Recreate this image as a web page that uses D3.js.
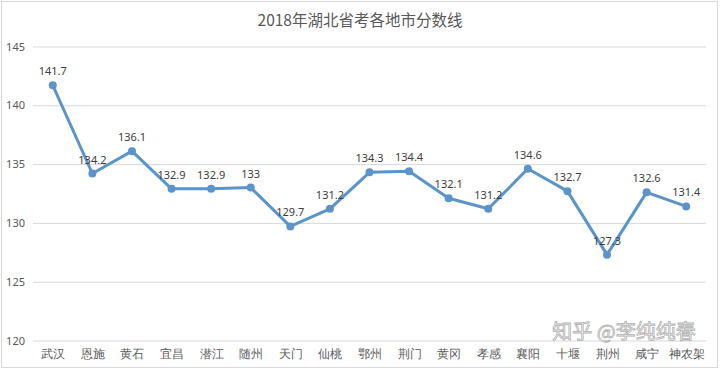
<!DOCTYPE html>
<meta charset="utf-8">
<html>
<head>
<title>2018年湖北省考各地市分数线</title>
<style>
body { margin: 0; background: #fff; }
svg { display: block; font-family: "Noto Sans CJK SC", "Noto Sans", sans-serif; }
.grid line { stroke: #d9d9d9; stroke-width: 1; }
.tick text { fill: #595959; }
</style>
</head>
<body>
<svg class="chart" width="720" height="370"></svg>

<script src="https://cdn.jsdelivr.net/npm/d3@7"></script>
<script>

const cities = ["武汉","恩施","黄石","宜昌","潜江","随州","天门","仙桃","鄂州","荆门","黄冈","孝感","襄阳","十堰","荆州","咸宁","神农架"]
const scores = [141.7, 134.2, 136.1, 132.9, 132.9, 133, 129.7, 131.2, 134.3, 134.4, 132.1, 131.2, 134.6, 132.7, 127.3, 132.6, 131.4]
const yTicks = [120, 125, 130, 135, 140, 145]

const svg = d3.select("svg.chart")
const lineColor = "#5b94ca"

// outer frame
svg.append("rect")
  .attr("x", 1.5).attr("y", 1.5)
  .attr("width", 716).attr("height", 366)
  .attr("fill", "#fff")
  .attr("stroke", "#d9d9d9")

svg.append("text")
  .attr("x", 360).attr("y", 26)
  .attr("text-anchor", "middle")
  .attr("font-size", 15.5)
  .attr("fill", "#595959")
  .text("2018年湖北省考各地市分数线")

const x = d3.scalePoint()
  .domain(cities)
  .range([33, 706])
  .padding(0.5)

const y = d3.scaleLinear()
  .domain([120, 145])
  .range([340.5, 46.5])

// gridlines + y labels
const yAxis = svg.append("g")
  .attr("class", "grid")
  .attr("transform", "translate(33,0)")
  .call(d3.axisLeft(y).tickValues(yTicks).tickSize(-673).tickPadding(8).tickFormat(d3.format("d")))
yAxis.select(".domain").remove()
yAxis.selectAll("text").attr("font-size", 11).attr("font-family", "Noto Sans, sans-serif")

// category labels
const xAxis = svg.append("g")
  .attr("transform", "translate(0,340.5)")
  .call(d3.axisBottom(x).tickSize(0).tickPadding(9))
xAxis.select(".domain").remove()
xAxis.selectAll("text").attr("font-size", 12).attr("fill", "#404040")

const line = d3.line()
  .x((d, i) => x(cities[i]))
  .y((d) => y(d))

svg.append("path")
  .datum(scores)
  .attr("d", line)
  .attr("fill", "none")
  .attr("stroke", lineColor)
  .attr("stroke-width", 3)
  .attr("stroke-linejoin", "round")

svg.selectAll("circle.pt")
  .data(scores)
  .enter().append("circle")
  .attr("class", "pt")
  .attr("cx", (d, i) => x(cities[i]))
  .attr("cy", (d) => y(d))
  .attr("r", 4)
  .attr("fill", lineColor)

svg.selectAll("text.val")
  .data(scores)
  .enter().append("text")
  .attr("class", "val")
  .attr("x", (d, i) => x(cities[i]))
  .attr("y", (d) => y(d) - 10)
  .attr("text-anchor", "middle")
  .attr("font-size", 11)
  .attr("font-family", "Noto Sans, sans-serif")
  .attr("fill", "#404040")
  .text((d) => d)

// watermark
svg.append("text")
  .attr("x", 624).attr("y", 339)
  .attr("text-anchor", "middle")
  .attr("font-size", 20)
  .attr("fill", "#fff")
  .attr("fill-opacity", 0.85)
  .attr("stroke", "#b0b0b0")
  .attr("stroke-width", 0.8)
  .text("知乎 @李纯纯春")

</script>
</body>
</html>
